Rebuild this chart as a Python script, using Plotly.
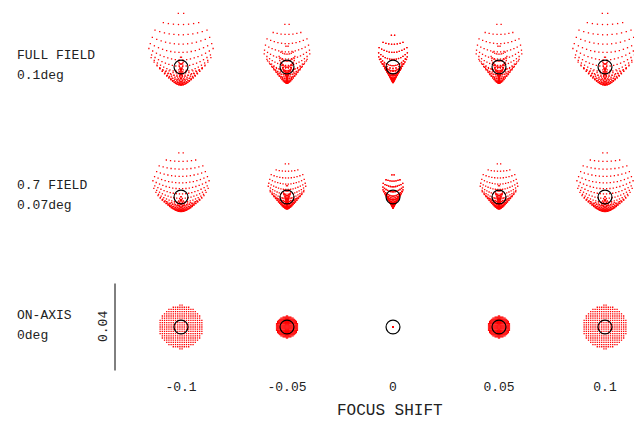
import numpy as np
import plotly.graph_objects as go

# focus shifts (columns) and fields (rows)
focus_shifts = [-0.1, -0.05, 0, 0.05, 0.1]
focus_labels = ["-0.1", "-0.05", "0", "0.05", "0.1"]
field_names = ["FULL FIELD", "0.7 FIELD", "ON-AXIS"]
field_angles = ["0.1deg", "0.07deg", "0deg"]

defocus_mm = [-0.0101, -0.00505, 0.0, 0.00505, 0.0101]
coma_mm = [0.00727, 0.00509, 0.0]
airy_radius_mm = 0.0032
scale_bar_mm = 0.04

# pupil sampling grid (normalised)
pupil_x = [-0.95, -0.85, -0.75, -0.65, -0.55, -0.45, -0.35, -0.25, -0.15, -0.05,
           0.05, 0.15, 0.25, 0.35, 0.45, 0.55, 0.65, 0.75, 0.85, 0.95]
pupil_y = [-1.0, -0.9, -0.8, -0.7, -0.6, -0.5, -0.4, -0.3, -0.2, -0.1, 0.0,
           0.1, 0.2, 0.3, 0.4, 0.5, 0.6, 0.7, 0.8, 0.9, 1.0]

# page sits 8px in from the window corner, so the figure is 634x424
W, H = 634, 424
PX = 2175.0          # pixels per mm on screen
col0_px, row2_px = 173, 319
pitch_x = 106 / PX
pitch_y = 130 / PX
bottom_px = 369

px_, py_ = np.meshgrid(pupil_x, pupil_y)
inside = px_**2 + py_**2 <= 1.003
px_, py_ = px_[inside], py_[inside]

fig = go.Figure()
shapes = []
for r, coma in enumerate(coma_mm):
    cy = (2 - r) * pitch_y
    for c, d in enumerate(defocus_mm):
        cx = c * pitch_x
        ex = d * px_ + 2 * coma * px_ * py_
        ey = d * py_ + coma * (px_**2 + 3 * py_**2)
        ex = ex - ex.mean()
        ey = ey - ey.mean()
        fig.add_trace(go.Scatter(
            x=cx + ex, y=cy + ey, mode="markers",
            marker=dict(symbol="square", size=1.3, color="#ff0000", line=dict(width=0)),
            hoverinfo="skip", showlegend=False,
        ))
        shapes.append(dict(
            type="circle", xref="x", yref="y", layer="above",
            x0=cx - airy_radius_mm, x1=cx + airy_radius_mm,
            y0=cy - airy_radius_mm, y1=cy + airy_radius_mm,
            line=dict(color="black", width=1.2),
        ))

# scale bar beside the on-axis row
bar_x = -66 / PX
shapes.append(dict(type="line", xref="x", yref="y",
                   x0=bar_x, x1=bar_x, y0=-scale_bar_mm / 2, y1=scale_bar_mm / 2,
                   line=dict(color="black", width=1)))

font = dict(family="Liberation Mono", size=13, color="#222")
annotations = []
for r, (name, ang) in enumerate(zip(field_names, field_angles)):
    cy = (2 - r) * pitch_y
    annotations.append(dict(xref="paper", yref="y", x=7 / W, y=cy + 12 / PX,
                            text=name, showarrow=False, xanchor="left", yanchor="middle", font=font))
    annotations.append(dict(xref="paper", yref="y", x=7 / W, y=cy - 8 / PX,
                            text=ang, showarrow=False, xanchor="left", yanchor="middle", font=font))

annotations.append(dict(xref="x", yref="y", x=bar_x - 12 / PX, y=0, text=str(scale_bar_mm),
                        textangle=-90, showarrow=False, xanchor="center", yanchor="middle", font=font))
annotations.append(dict(xref="x", yref="paper", x=2 * pitch_x - 3.5 / PX, y=0, yshift=-34,
                        text="FOCUS SHIFT", showarrow=False, xanchor="center", yanchor="middle",
                        font=dict(family="Liberation Mono", size=16, color="#222")))

fig.update_layout(
    width=W, height=H,
    margin=dict(l=0, r=0, t=0, b=H - bottom_px),
    paper_bgcolor="white", plot_bgcolor="white",
    shapes=shapes, annotations=annotations,
    xaxis=dict(range=[-col0_px / PX, (W - col0_px) / PX], showgrid=False, zeroline=False,
               showline=False, ticks="",
               tickvals=[c * pitch_x for c in range(len(focus_shifts))],
               ticktext=focus_labels, tickfont=font),
    yaxis=dict(range=[(row2_px - bottom_px) / PX, row2_px / PX], visible=False),
)

fig.write_html("out.html")
